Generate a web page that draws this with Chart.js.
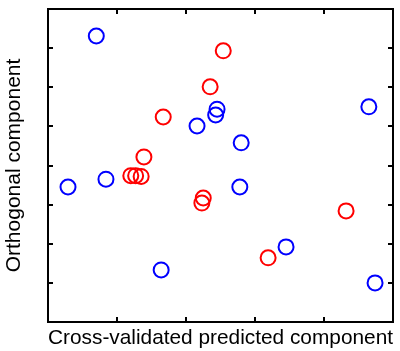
<!DOCTYPE html>
<html>
<head>
<meta charset="utf-8">
<script src="https://cdn.jsdelivr.net/npm/chart.js@4"></script>
<style>
  html, body { margin: 0; padding: 0; background: #fff; }
  #chart { display: block; }
</style>
</head>
<body>
<canvas id="chart" width="400" height="351"></canvas>
<script>
// --- Data ---
const blueX = [0.70, 0.29, 0.84, 1.64, 2.16, 2.45, 2.43, 2.80, 2.78, 3.45, 4.65, 4.74];
const blueY = [7.31, 3.45, 3.65, 1.33, 5.01, 5.44, 5.29, 4.58, 3.45, 1.92, 5.50, 1.00];
const redX = [2.54, 2.35, 1.67, 1.39, 1.20, 1.27, 1.35, 2.25, 2.23, 3.19, 4.32];
const redY = [6.93, 6.01, 5.24, 4.22, 3.74, 3.74, 3.72, 3.17, 3.04, 1.64, 2.84];

const xRange = [0, 5];
const yRange = [0, 8];
const xLabel = 'Cross-validated predicted component';
const yLabel = 'Orthogonal component';

const toPoints = (xs, ys) => xs.map((x, i) => ({ x: x, y: ys[i] }));

// frame + inward ticks on all four sides
const framePlugin = {
    id: 'frame',
    afterDatasetsDraw(chart) {
        const { ctx, chartArea: a, scales } = chart;
        const len = 5;
        ctx.save();
        ctx.strokeStyle = '#000';
        ctx.lineWidth = 2;
        ctx.lineCap = 'butt';
        scales.x.ticks.forEach(t => {
            if (t.value <= xRange[0] || t.value >= xRange[1]) return;
            const px = Math.round(scales.x.getPixelForValue(t.value));
            ctx.beginPath();
            ctx.moveTo(px, a.bottom); ctx.lineTo(px, a.bottom - len);
            ctx.moveTo(px, a.top); ctx.lineTo(px, a.top + len);
            ctx.stroke();
        });
        scales.y.ticks.forEach(t => {
            if (t.value <= yRange[0] || t.value >= yRange[1]) return;
            const py = Math.round(scales.y.getPixelForValue(t.value));
            ctx.beginPath();
            ctx.moveTo(a.left, py); ctx.lineTo(a.left + len, py);
            ctx.moveTo(a.right, py); ctx.lineTo(a.right - len, py);
            ctx.stroke();
        });
        ctx.strokeRect(a.left, a.top, a.right - a.left, a.bottom - a.top);
        ctx.restore();
    }
};

const labelFont = { family: '"Liberation Sans", Arial, sans-serif', size: 21 };

new Chart(document.getElementById('chart'), {
    type: 'scatter',
    data: {
        datasets: [
            {
                data: toPoints(blueX, blueY),
                borderColor: '#0000ff',
                backgroundColor: 'rgba(0,0,0,0)',
                pointRadius: 7.5,
                pointBorderWidth: 2
            },
            {
                data: toPoints(redX, redY),
                borderColor: '#ff0000',
                backgroundColor: 'rgba(0,0,0,0)',
                pointRadius: 7.5,
                pointBorderWidth: 2
            }
        ]
    },
    options: {
        responsive: false,
        animation: false,
        devicePixelRatio: 1,
        layout: { autoPadding: false, padding: { top: 9, right: 7, left: 0, bottom: 0 } },
        plugins: { legend: { display: false }, tooltip: { enabled: false } },
        scales: {
            x: {
                min: xRange[0], max: xRange[1],
                ticks: { display: false, stepSize: 1 },
                grid: { display: false, drawTicks: false },
                border: { display: false },
                title: { display: true, text: xLabel, color: '#000', font: labelFont,
                         padding: { top: 3.8, bottom: 0 } }
            },
            y: {
                min: yRange[0], max: yRange[1],
                ticks: { display: false, stepSize: 1 },
                grid: { display: false, drawTicks: false },
                border: { display: false },
                title: { display: true, text: yLabel, color: '#000', font: labelFont,
                         padding: { top: 1.4, bottom: 21.4 } }
            }
        }
    },
    plugins: [framePlugin]
});
</script>
</body>
</html>
